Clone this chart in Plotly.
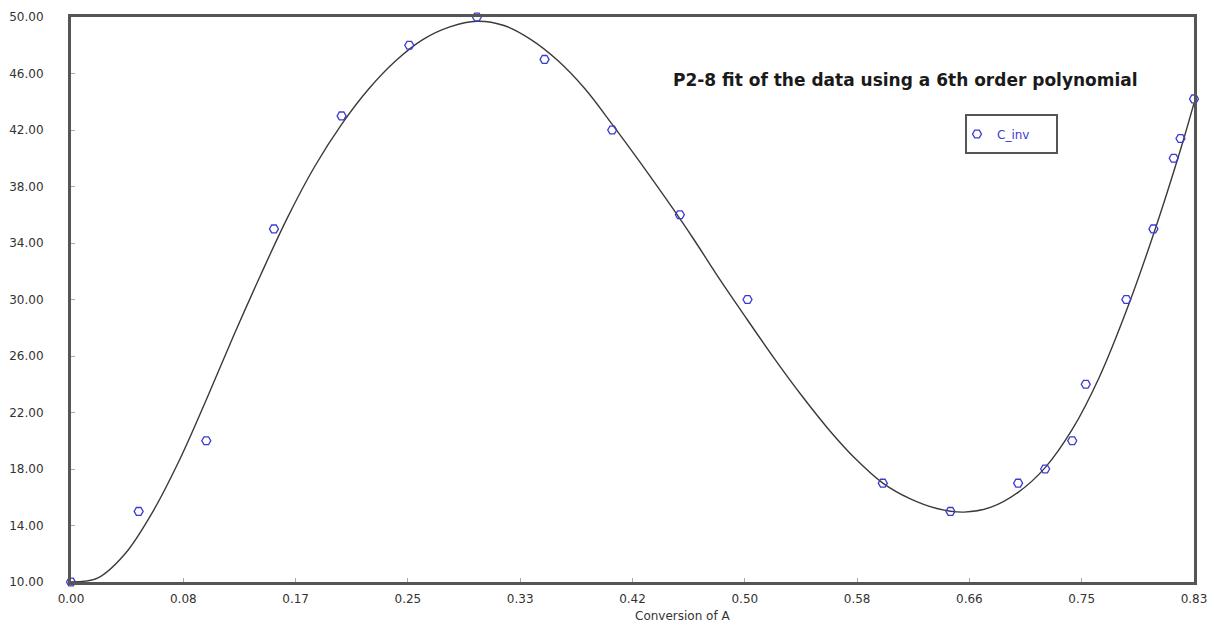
import plotly.graph_objects as go

# Measured data points (C_inv vs conversion)
x_data = [0.00, 0.05, 0.10, 0.15, 0.20, 0.25, 0.30, 0.35, 0.40, 0.45, 0.50,
          0.60, 0.65, 0.70, 0.72, 0.74, 0.75, 0.78, 0.80, 0.815, 0.82, 0.83]
c_inv = [10.0, 15.0, 20.0, 35.0, 43.0, 48.0, 50.0, 47.0, 42.0, 36.0, 30.0,
         17.0, 15.0, 17.0, 18.0, 20.0, 24.0, 30.0, 35.0, 40.0, 41.4, 44.2]

# Fitted 6th order polynomial curve
x_fit = [0.00, 0.02, 0.04, 0.06, 0.08, 0.10, 0.12, 0.14, 0.16, 0.18,
         0.20, 0.22, 0.24, 0.26, 0.28, 0.30, 0.32, 0.34, 0.36, 0.38,
         0.40, 0.42, 0.44, 0.46, 0.48, 0.50, 0.52, 0.54, 0.56, 0.58,
         0.60, 0.62, 0.64, 0.66, 0.68, 0.70, 0.72, 0.74, 0.76, 0.78,
         0.80, 0.82, 0.83]
y_fit = [10.0, 10.3, 12.0, 14.9, 18.6, 22.9, 27.4, 31.7, 35.8, 39.4,
         42.4, 44.9, 46.9, 48.4, 49.3, 49.7, 49.4, 48.4, 46.9, 44.9,
         42.4, 39.8, 37.1, 34.3, 31.35, 28.55, 25.8, 23.2, 20.8, 18.7,
         17.0, 15.9, 15.2, 14.95, 15.3, 16.35, 18.1, 20.8, 24.5, 29.2,
         34.6, 40.6, 43.9]

x_tick_labels = ["0.00", "0.08", "0.17", "0.25", "0.33", "0.42",
                 "0.50", "0.58", "0.66", "0.75", "0.83"]
x_max = 0.83
y_min, y_max = 10, 50

title_text = "P2-8 fit of the data using a 6th order polynomial"
x_title = "Conversion of A"
series_name = "C_inv"

# page body has an 8px margin: plot area lands at screen x 71..1194, y 17..582
PL, PT, PW, PH = 71, 17, 1123, 565

def px(x):
    return (x - PL) / PW

def py(y):
    return (PT + PH - y) / PH

fig = go.Figure()
fig.add_trace(go.Scatter(
    x=x_fit, y=y_fit, mode="lines", line=dict(color="#3a3a3a", width=1.4, shape="spline"),
    showlegend=False, hoverinfo="skip", cliponaxis=False))
fig.add_trace(go.Scatter(
    x=x_data, y=c_inv, mode="markers", name=series_name,
    marker=dict(symbol="hexagon2-open", size=9, color="#3b3bd0", line=dict(width=1.3, color="#3b3bd0")),
    cliponaxis=False))

tickvals = [x_max * i / 10 for i in range(11)]

fig.update_layout(
    width=1212, height=618,
    margin=dict(l=63, r=26, t=9, b=44),
    paper_bgcolor="white", plot_bgcolor="white",
    font=dict(family="DejaVu Sans", size=12, color="#222"),
    showlegend=True,
    legend=dict(x=px(957), y=py(134), xanchor="left", yanchor="middle",
                bgcolor="rgba(0,0,0,0)", borderwidth=0,
                font=dict(family="DejaVu Sans", size=12, color="#3b3bd0")),
    xaxis=dict(range=[0, x_max], tickvals=tickvals, ticktext=x_tick_labels,
               automargin=False,
               showgrid=False, zeroline=False, showline=True, mirror=True,
               linecolor="#555", linewidth=3, ticks="inside", ticklen=4,
               tickcolor="#aaa", tickwidth=1, ticklabelstandoff=4,
               tickfont=dict(family="DejaVu Sans", size=12, color="#333")),
    yaxis=dict(range=[y_min, y_max], dtick=4, tick0=10, tickformat=".2f",
               automargin=False,
               showgrid=False, zeroline=False, showline=True, mirror=True,
               linecolor="#555", linewidth=3, ticks="inside", ticklen=4,
               tickcolor="#aaa", tickwidth=1, ticklabelstandoff=22,
               tickfont=dict(family="DejaVu Sans", size=12, color="#333")),
    shapes=[dict(type="rect", xref="paper", yref="paper",
                 x0=px(966), x1=px(1057), y0=py(153), y1=py(115),
                 line=dict(color="#555", width=2), fillcolor="rgba(0,0,0,0)")],
    annotations=[
        dict(text=title_text, xref="paper", yref="paper", x=px(905.5),
             y=py(80), xanchor="center", yanchor="middle", showarrow=False,
             font=dict(family="DejaVu Sans", size=17, color="#1a1a1a", weight="bold")),
        dict(text=x_title, xref="paper", yref="paper", x=px(633),
             y=py(616), xanchor="left", yanchor="middle", showarrow=False,
             font=dict(family="DejaVu Sans", size=12, color="#333")),
    ],
)

fig.write_html("out.html")
